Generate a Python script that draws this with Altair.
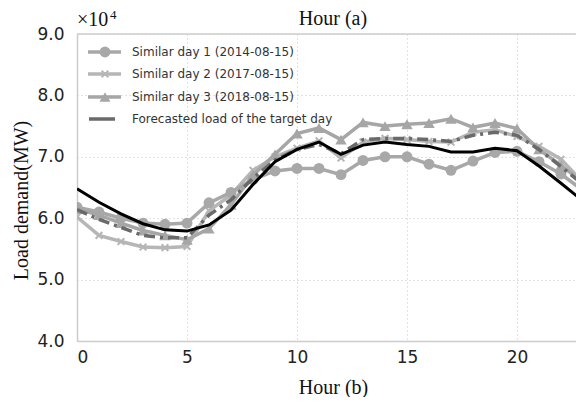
import altair as alt
import pandas as pd

hours = list(range(24))

# Load values in units of 10^4 MW
day1 = [6.18, 6.10, 6.00, 5.92, 5.90, 5.92, 6.25, 6.42, 6.63, 6.77, 6.81, 6.81, 6.71, 6.94, 7.00, 7.00, 6.88, 6.78, 6.93, 7.07, 7.09, 6.92, 6.72, 6.45]
day2 = [6.02, 5.72, 5.62, 5.53, 5.52, 5.54, 6.12, 6.38, 6.78, 7.00, 7.14, 7.26, 6.98, 7.24, 7.30, 7.28, 7.25, 7.24, 7.40, 7.44, 7.33, 7.17, 6.96, 6.58]
day3 = [6.15, 6.05, 5.92, 5.80, 5.72, 5.65, 5.83, 6.22, 6.70, 7.04, 7.38, 7.47, 7.28, 7.56, 7.50, 7.53, 7.55, 7.62, 7.48, 7.55, 7.46, 7.12, 6.86, 6.58]
forecast = [6.14, 5.98, 5.85, 5.72, 5.68, 5.68, 6.05, 6.30, 6.65, 6.95, 7.12, 7.20, 7.05, 7.28, 7.30, 7.30, 7.28, 7.25, 7.35, 7.40, 7.35, 7.12, 6.84, 6.55]
actual = [6.48, 6.26, 6.07, 5.91, 5.81, 5.79, 5.89, 6.13, 6.55, 6.92, 7.12, 7.24, 7.04, 7.19, 7.24, 7.20, 7.17, 7.08, 7.08, 7.14, 7.10, 6.85, 6.57, 6.28]

series_names = ["Similar day 1 (2014-08-15)", "Similar day 2 (2017-08-15)",
                "Similar day 3 (2018-08-15)", "Forecasted load of the target day", "Actual load"]
x_ticks = [0, 5, 10, 15, 20]
y_ticks = [4.0, 5.0, 6.0, 7.0, 8.0, 9.0]

all_vals = [day1, day2, day3, forecast, actual]
df = pd.DataFrame({
    "hour": hours * 5,
    "load": sum(all_vals, []),
    "series": sum([[n] * 24 for n in series_names], []),
})

W, H = 499, 307
X_MAX = W / 22.0  # visible part of the hour axis (right edge is cut as in the reference)
X_MARK = "M-1,-1L1,1M-1,1L1,-1"
FRAME = "#cccccc"

x = alt.X("hour:Q", scale=alt.Scale(domain=[0, X_MAX], nice=False, zero=False),
          axis=alt.Axis(values=x_ticks, title="Hour (b)", titleX=256, titleY=52,
                        titleBaseline="alphabetic", labelPadding=8))
y = alt.Y("load:Q", scale=alt.Scale(domain=[4, 9], nice=False, zero=False),
          axis=alt.Axis(values=y_ticks, format=".1f", title="Load demand(MW)",
                        titleX=-50, titleY=166, titleAngle=270, titleBaseline="alphabetic",
                        titleAlign="center", labelPadding=13))

base = alt.Chart(df).encode(x=x, y=y)

def sel(name):
    return base.transform_filter(alt.datum.series == name)

c1, c2, c3, cf = "#a8a8a8", "#b6b6b6", "#a6a6a6", "#6a6a6a"

layers = [
    sel(series_names[1]).mark_line(color=c2, strokeWidth=3.5, clip=True),
    sel(series_names[1]).mark_point(shape=X_MARK, size=45, color=c2, filled=False, strokeWidth=2, opacity=1, clip=True),
    sel(series_names[0]).mark_line(color=c1, strokeWidth=3.5, clip=True),
    sel(series_names[0]).mark_point(shape="circle", size=120, color=c1, filled=True, opacity=1, clip=True),
    sel(series_names[2]).mark_line(color=c3, strokeWidth=3.5, clip=True),
    sel(series_names[2]).mark_point(shape="triangle-up", size=130, color=c3, filled=True, opacity=1, clip=True),
    sel(series_names[3]).mark_line(color=cf, strokeWidth=3.5, strokeDash=[11, 5, 3, 5], clip=True),
    sel(series_names[4]).mark_line(color="#000000", strokeWidth=3, clip=True),
]

# top frame line (left/bottom come from the axis domains; right edge is cut off)
frame_df = pd.DataFrame({"k": [0]})
layers.append(alt.Chart(frame_df).mark_rule(color=FRAME, strokeWidth=1.5).encode(
    x=alt.value(0), x2=alt.value(W), y=alt.value(0)))

# legend (manual, matplotlib style)
leg_colors = [c1, c2, c3, cf]
leg_shapes = ["circle", X_MARK, "triangle-up", None]
row_y = [18, 40, 63, 85]
for i in range(4):
    ldf = pd.DataFrame({"label": [series_names[i]]})
    lc = alt.Chart(ldf)
    if leg_shapes[i] is None:
        layers.append(lc.mark_rule(color=cf, strokeWidth=3.5).encode(
            x=alt.value(12), x2=alt.value(38), y=alt.value(row_y[i])))
    else:
        layers.append(lc.mark_rule(color=leg_colors[i], strokeWidth=3.5).encode(
            x=alt.value(11), x2=alt.value(44), y=alt.value(row_y[i])))
        if leg_shapes[i] == X_MARK:
            layers.append(lc.mark_point(shape=X_MARK, size=45, color=leg_colors[i], filled=False,
                                        strokeWidth=2, opacity=1).encode(
                x=alt.value(28), y=alt.value(row_y[i])))
        else:
            layers.append(lc.mark_point(shape=leg_shapes[i], size=120, color=leg_colors[i],
                                        filled=True, opacity=1).encode(
                x=alt.value(28), y=alt.value(row_y[i])))
    layers.append(lc.mark_text(align="left", baseline="middle", font="DejaVu Sans",
                               fontSize=12, color="#333333").encode(
        x=alt.value(55), y=alt.value(row_y[i]), text="label:N"))

# annotation texts
ann = alt.Chart(pd.DataFrame({"t": ["×10", "4", "Hour (a)"]}))
layers.append(ann.transform_filter(alt.datum.t == "×10").mark_text(
    align="left", baseline="alphabetic", font="Liberation Serif", fontSize=20, color="#111111"
).encode(x=alt.value(0), y=alt.value(-8), text="t:N"))
layers.append(ann.transform_filter(alt.datum.t == "4").mark_text(
    align="left", baseline="alphabetic", font="Liberation Serif", fontSize=13, color="#111111"
).encode(x=alt.value(33), y=alt.value(-15), text="t:N"))
layers.append(ann.transform_filter(alt.datum.t == "Hour (a)").mark_text(
    align="center", baseline="alphabetic", font="Liberation Serif", fontSize=20, color="#111111"
).encode(x=alt.value(256), y=alt.value(-9), text="t:N"))

chart = alt.layer(*layers).properties(
    width=W, height=H,
    padding={"left": 69, "top": 26, "right": 0, "bottom": 56},
    autosize=alt.AutoSizeParams(type="none"),
).configure_view(
    strokeWidth=0
).configure_axis(
    labelFont="DejaVu Sans", labelFontSize=17, labelColor="#222222",
    titleFont="Liberation Serif", titleFontSize=20, titleFontWeight="normal", titleColor="#111111",
    grid=True, gridColor="#c4c4c4", gridDash=[1, 3], gridWidth=1,
    domain=True, domainColor=FRAME, domainWidth=1.5, ticks=False,
)

chart.save("out.html", embed_options={"renderer": "svg", "actions": False})
